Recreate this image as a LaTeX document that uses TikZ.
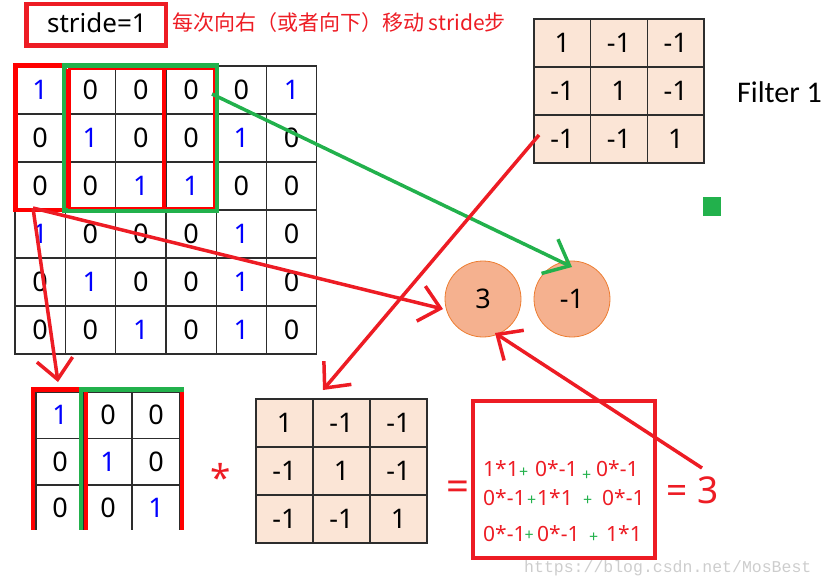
\documentclass[tikz,border=0pt]{standalone}
\usepackage{fontspec}
\setmainfont{Noto Sans}
\newfontfamily\cjkfont{Noto Sans CJK SC}
\newfontfamily\calfont{Carlito}
\newfontfamily\wmfont{Liberation Mono}
\usetikzlibrary{arrows.meta}
\definecolor{myred}{RGB}{237,28,36}
\definecolor{boxred}{RGB}{255,0,0}
\definecolor{mygreen}{RGB}{34,177,76}
\definecolor{peach}{RGB}{251,229,214}
\definecolor{salmon}{RGB}{245,177,143}
\definecolor{orng}{RGB}{237,125,49}
\definecolor{gridc}{RGB}{45,45,45}
\definecolor{wm}{RGB}{205,205,205}
\begin{document}
\begin{tikzpicture}[x=1pt,y=-1pt,
  cell/.style={draw=gridc, line width=1.3pt, inner sep=0pt, outer sep=0pt, font=\fontsize{27}{27}\selectfont},
  gcell/.style={cell, minimum width=50.3pt, minimum height=48pt},
  fcell/.style={cell, fill=peach, minimum width=56.7pt, minimum height=48pt},
  bcell/.style={cell, minimum width=48pt, minimum height=46.5pt},
  redarr/.style={draw=myred, line width=3.5pt, -{Straight Barb[length=20pt,width=36pt]}},
  greenarr/.style={draw=mygreen, line width=3.5pt, -{Straight Barb[length=22pt,width=38pt]}},
  thickred/.style={draw=boxred, line width=4.5pt},
  thickgreen/.style={draw=mygreen, line width=4.5pt},
  res/.style={circle, minimum size=76pt, inner sep=0pt, fill=salmon, draw=orng, line width=0.8pt, font=\fontsize{27}{27}\selectfont},
  ftok/.style={anchor=base west, inner sep=0pt, text=myred, font=\fontsize{21}{21}\selectfont},
  plus/.style={anchor=base west, inner sep=0pt, text=mygreen, font=\fontsize{16}{16}\selectfont}
]
\useasboundingbox (0,0) rectangle (825,587);

% header
\node[draw=myred, line width=4.5pt, minimum width=139.5pt, minimum height=41.5pt, inner sep=0pt] (sbox) at (96.25,24.75) {};
\node[anchor=base, inner sep=0pt, font=\fontsize{26}{26}\selectfont] (stride) at (97,32) {stride=1};
\node[anchor=base west, inner sep=0pt, text=myred, font=\cjkfont\fontsize{21}{21}\selectfont] (note) at (172,30.5) {每次向右（或者向下）移动 stride步};

% 6x6 input grid
\foreach \r/\row in {0/{1,0,0,0,0,1},1/{0,1,0,0,1,0},2/{0,0,1,1,0,0},3/{1,0,0,0,1,0},4/{0,1,0,0,1,0},5/{0,0,1,0,1,0}}{
  \foreach \v [count=\c from 0] in \row {
    \ifnum\v=1 \def\tc{blue}\else\def\tc{black}\fi
    \node[gcell, text=\tc] (g-\r-\c) at ({15+50.3*\c+25.15},{66+48*\r+24}) {\v};
  }
}
% windows on the input grid
\draw[thickred] (15.5,65.5) rectangle (64,210);
\draw[thickgreen] (64.5,65.5) rectangle (217,210.5);
\draw[draw=boxred, line width=2pt] (68.5,69) rectangle (214,208);
\draw[thickred] (68.5,69) -- (68.5,208);
\draw[thickred] (164,69) -- (164,208);

% top filter
\foreach \r/\row in {0/{1,-1,-1},1/{-1,1,-1},2/{-1,-1,1}}{
  \foreach \v [count=\c from 0] in \row {
    \node[fcell] (f-\r-\c) at ({534+56.7*\c+28.35},{19+48*\r+24}) {\v};
  }
}
\node[anchor=base west, inner sep=0pt, font=\calfont\fontsize{30}{30}\selectfont] (flabel) at (737,102) {Filter 1};
\node[fill=mygreen, minimum width=18pt, minimum height=19pt, inner sep=0pt] (gsq) at (712,206.5) {};

% result circles
\node[res] (c3) at (483,299) {3};
\node[res] (cm1) at (572,299) {-1};

% bottom-left 3x3 window
\begin{scope}
\clip (0,380) rectangle (200,529);
\foreach \r/\row in {0/{1,0,0},1/{0,1,0},2/{0,0,1}}{
  \foreach \v [count=\c from 0] in \row {
    \ifnum\v=1 \def\tc{blue}\else\def\tc{black}\fi
    \node[bcell, text=\tc] (b-\r-\c) at ({36+48*\c+24},{392+46.5*\r+23.25}) {\v};
  }
}
\draw[thickred] (33,535) -- (33,389.5) -- (81,389.5);
\draw[thickgreen] (81,535) -- (81,389.5) -- (184,389.5);
\draw[thickred] (86,392) -- (86,535);
\draw[thickred] (182,391.5) -- (182,535);
\end{scope}

% operator star
\node[anchor=base, inner sep=0pt, text=myred, font=\fontsize{37}{37}\selectfont] (star) at (221,491) {*};

% bottom filter
\foreach \r/\row in {0/{1,-1,-1},1/{-1,1,-1},2/{-1,-1,1}}{
  \foreach \v [count=\c from 0] in \row {
    \node[fcell, minimum width=57pt] (h-\r-\c) at ({256+57*\c+28.5},{399+48*\r+24}) {\v};
  }
}

% equals and formula box
\node[anchor=base, inner sep=0pt, text=myred, font=\fontsize{40}{40}\selectfont] (eq1) at (457.5,500) {=};
\node[draw=myred, line width=4pt, minimum width=182pt, minimum height=157pt, inner sep=0pt] (fbox) at (564,479.5) {};
\node[ftok] (t11) at (483,476) {1*1};
\node[plus] (p11) at (519,477.5) {+};
\node[ftok] (t12) at (535,476) {0*-1};
\node[plus] (p12) at (582,480.5) {+};
\node[ftok] (t13) at (596,476) {0*-1};
\node[ftok] (t21) at (483,505) {0*-1};
\node[plus] (p21) at (527,505.5) {+};
\node[ftok] (t22) at (537,505) {1*1};
\node[plus] (p22) at (583,505.5) {+};
\node[ftok] (t23) at (602,505) {0*-1};
\node[ftok] (t31) at (483,541) {0*-1};
\node[plus] (p31) at (524.5,540.5) {+};
\node[ftok] (t32) at (537,541) {0*-1};
\node[plus] (p32) at (589,542.5) {+};
\node[ftok] (t33) at (606,541) {1*1};
\node[anchor=base, inner sep=0pt, text=myred, font=\fontsize{37}{37}\selectfont] (eq3) at (692.5,503) {= 3};

% watermark url
\node[anchor=base west, inner sep=0pt, text=wm, font=\wmfont\fontsize{16.5}{16.5}\selectfont] (url) at (524,572) {https://blog.csdn.net/MosBest};

% arrows
\coordinate (s1) at (33,208);
\coordinate (e1) at (443,309);
\coordinate (e2) at (58,382);
\coordinate (s3) at (212,94);
\coordinate (e3) at (572,267);
\coordinate (s4) at (539,135);
\coordinate (e4) at (323,390);
\coordinate (s5) at (702,468);
\coordinate (e5) at (495,333);
\draw[greenarr] (s3) -- (e3);
\draw[redarr] (s1) -- (e1);
\draw[redarr] (s1) -- (e2);
\draw[redarr] (s4) -- (e4);
\draw[redarr] (s5) -- (e5);
\end{tikzpicture}
\end{document}
